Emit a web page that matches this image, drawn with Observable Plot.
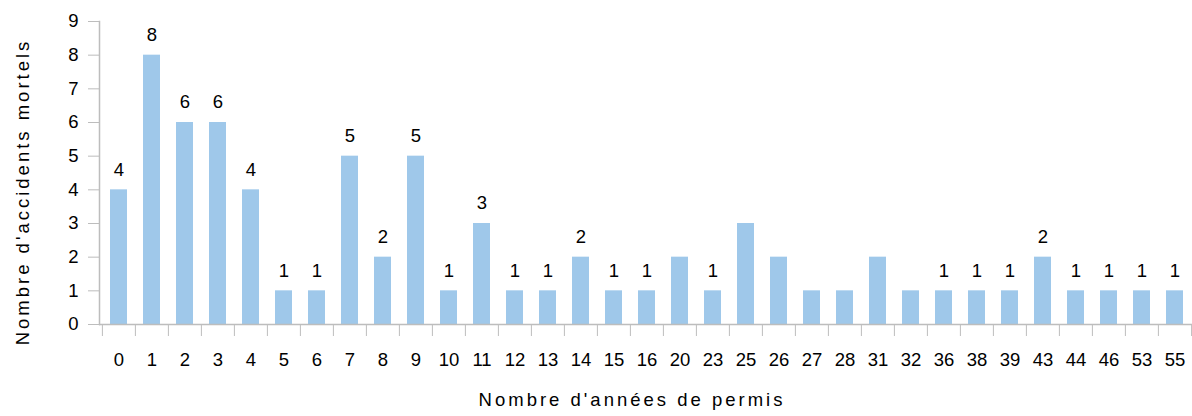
<!DOCTYPE html>
<html>
<head>
<meta charset="utf-8">
<script src="https://cdn.jsdelivr.net/npm/d3@7"></script>
<script src="https://cdn.jsdelivr.net/npm/@observablehq/plot@0.6"></script>
<style>
  html, body { margin: 0; padding: 0; background: #fff; overflow: hidden; }
  svg { display: block; }
  .title-text text { letter-spacing: 3px; }
</style>
</head>
<body>
<div id="chart"></div>
<script>
// Data
const years = ["0","1","2","3","4","5","6","7","8","9","10","11","12","13","14","15","16","20","23","25","26","27","28","31","32","36","38","39","43","44","46","53","55"];
const accidents = [4,8,6,6,4,1,1,5,2,5,1,3,1,1,2,1,1,2,1,3,2,1,1,2,1,1,1,1,2,1,1,1,1];
// categories whose value label is printed above the bar
const labelledYears = ["0","1","2","3","4","5","6","7","8","9","10","11","12","13","14","15","16","23","36","38","39","43","44","46","53","55"];
const yTicks = [0,1,2,3,4,5,6,7,8,9];
const xTitle = "Nombre d'années de permis";
const yTitle = "Nombre d'accidents mortels";

const data = years.map((y, i) => ({year: y, value: accidents[i]}));
const labelled = data.filter(d => labelledYears.includes(d.year));

const W = 1192, H = 416;
const left = 99, rightEdge = 1195;
const step = (rightEdge - left) / years.length;
const grey = "#bdbdbd";
const ink = "#000000";

const chart = Plot.plot({
  width: W,
  height: H,
  marginLeft: left,
  marginRight: 0,
  marginTop: 21,
  marginBottom: 92,
  style: {fontFamily: "'Liberation Sans', Arial, sans-serif", fontSize: "18.5px", color: ink, overflow: "visible"},
  x: {type: "band", domain: years, range: [left, rightEdge], paddingInner: 0.48, paddingOuter: 0.24},
  y: {domain: [0, 9]},
  marks: [
    Plot.barY(data, {x: "year", y: "value", fill: "#9fc8ea"}),
    Plot.text(labelled, {x: "year", y: "value", text: d => String(d.value), dy: -20, fill: ink, fontSize: 18.5}),
    Plot.ruleY([0], {stroke: grey, strokeWidth: 1.5}),
    Plot.frame({anchor: "left", stroke: grey, strokeWidth: 1.5}),
    Plot.axisY({ticks: yTicks, tickSize: 11, tickPadding: 10, stroke: grey, label: null, fontSize: 18.5, fill: ink}),
    // category labels
    Plot.axisX({tickSize: 0, tickPadding: 28, label: null, fontSize: 18.5, fill: ink}),
    // band separator ticks (left edges of each band)
    Plot.axisX({tickSize: 12, tickFormat: () => "", label: null, stroke: grey, dx: -step / 2}),
    // right edge of last band
    Plot.axisX({ticks: [years[years.length - 1]], tickSize: 12, tickFormat: () => "", label: null, stroke: grey, dx: step / 2}),
    Plot.text([xTitle], {frameAnchor: "bottom", text: d => d, dy: 81, dx: -14, fontSize: 18.5, fill: ink, className: "title-text"}),
    Plot.text([yTitle], {frameAnchor: "left", text: d => d, rotate: -90, textAnchor: "middle", dx: -76, dy: 19, fontSize: 18.5, fill: ink, className: "title-text"})
  ]
});
document.getElementById("chart").appendChild(chart);
</script>
</body>
</html>
